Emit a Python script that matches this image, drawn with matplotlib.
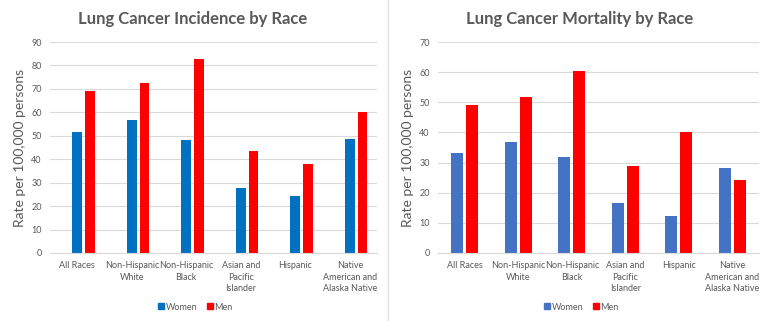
import numpy as np
import matplotlib
matplotlib.use("Agg")
import matplotlib.pyplot as plt
from matplotlib.lines import Line2D

plt.rcParams['font.family'] = ['Lato', 'DejaVu Sans']

# Data
categories = ["All Races", "Non-Hispanic\nWhite", "Non-Hispanic\nBlack",
              "Asian and\nPacific\nIslander", "Hispanic",
              "Native\nAmerican and\nAlaska Native"]

incidence_women = [51.5, 56.7, 48.4, 27.6, 24.5, 48.7]
incidence_men = [69.3, 72.5, 82.6, 43.3, 37.8, 60.0]

mortality_women = [33.1, 36.7, 32.0, 16.6, 12.4, 28.2]
mortality_men = [49.1, 51.8, 60.3, 28.9, 40.0, 24.1]

GRAY = "#595959"
GRID = "#D9D9D9"
RED = "#FF0000"


def style_axis(ax, ymax, step):
    ax.set_ylim(0, ymax)
    ax.set_xlim(-0.5, len(categories) - 0.5)
    ax.set_yticks(np.arange(0, ymax + 1, step))
    ax.yaxis.grid(True, color=GRID, linewidth=0.8)
    ax.set_axisbelow(True)
    for side in ["top", "right", "left"]:
        ax.spines[side].set_visible(False)
    ax.spines["bottom"].set_color(GRID)
    ax.spines["bottom"].set_linewidth(0.8)
    ax.tick_params(axis="both", length=0, colors=GRAY, labelsize=6.5)
    ax.tick_params(axis="x", pad=6)
    ax.tick_params(axis="y", pad=6)
    ax.set_xticks(np.arange(len(categories)))
    ax.set_xticklabels(categories, linespacing=1.35, va="top")
    ax.set_ylabel("Rate per 100,000 persons", color=GRAY, fontsize=10, labelpad=4)


fig = plt.figure(figsize=(7.68, 3.21), dpi=100)
x = np.arange(len(categories))

# left chart: incidence
ax1 = fig.add_axes([50 / 768, 68 / 321, 327 / 768, 211 / 321])
w = 0.175
ax1.bar(x, incidence_women, width=w, color="#0070C0")
ax1.bar(x + w + 0.055, incidence_men, width=w, color=RED)
style_axis(ax1, 90, 10)

# right chart: mortality
ax2 = fig.add_axes([438 / 768, 68 / 321, 321 / 768, 211 / 321])
w2 = 0.224
ax2.bar(x - 0.14, mortality_women, width=w2, color="#4472C4")
ax2.bar(x + 0.14, mortality_men, width=w2, color=RED)
style_axis(ax2, 70, 10)

titles = [("Lung Cancer Incidence by Race", 193), ("Lung Cancer Mortality by Race", 580)]
for text, cx in titles:
    fig.text(cx / 768, 1 - 19 / 321, text, ha="center", va="center",
             color=GRAY, fontsize=12, fontweight="bold")

for wc, cx in [("#0070C0", 195), ("#4472C4", 581)]:
    handles = [Line2D([], [], marker="s", linestyle="", markersize=5, color=c)
               for c in (wc, RED)]
    fig.legend(handles, ["Women", "Men"], loc="center",
               bbox_to_anchor=(cx / 768, 1 - 307 / 321),
               ncol=2, frameon=False, fontsize=6.5, labelcolor=GRAY,
               handletextpad=0.1, columnspacing=1.0, handlelength=0.8)

# separator between the two chart panels
fig.add_artist(Line2D([388 / 768, 388 / 768], [0, 1], color="#E0E0E0", linewidth=1))

fig.savefig("out.png", dpi=100)
